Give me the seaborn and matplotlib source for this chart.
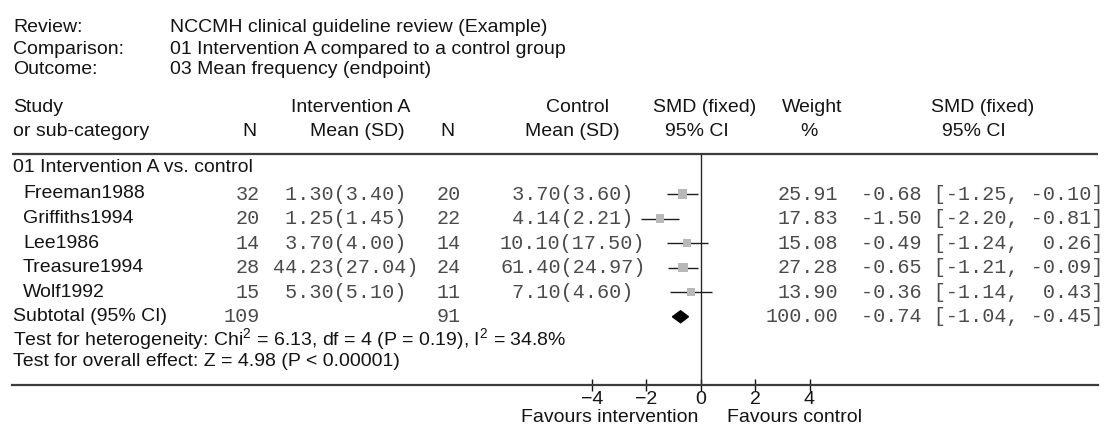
import numpy as np
import pandas as pd
import matplotlib
matplotlib.use('Agg')
import matplotlib.pyplot as plt
import matplotlib.transforms as mtransforms
import seaborn as sns

# data
studies = ['Freeman1988', 'Griffiths1994', 'Lee1986', 'Treasure1994', 'Wolf1992']
n_int = [32, 20, 14, 28, 15]
mean_int = [1.30, 1.25, 3.70, 44.23, 5.30]
sd_int = [3.40, 1.45, 4.00, 27.04, 5.10]
n_ctl = [20, 22, 14, 24, 11]
mean_ctl = [3.70, 4.14, 10.10, 61.40, 7.10]
sd_ctl = [3.60, 2.21, 17.50, 24.97, 4.60]
weight = [25.91, 17.83, 15.08, 27.28, 13.90]
smd = [-0.68, -1.50, -0.49, -0.65, -0.36]
ci_lo = [-1.25, -2.20, -1.24, -1.21, -1.14]
ci_hi = [-0.10, -0.81, 0.26, -0.09, 0.43]

total_n_int = 109
total_n_ctl = 91
total_weight = 100.00
total_smd = -0.74
total_lo = -1.04
total_hi = -0.45

xticks = [-4, -2, 0, 2, 4]

header_labels = ['Review:', 'Comparison:', 'Outcome:']
header_values = ['NCCMH clinical guideline review (Example)',
                 '01 Intervention A compared to a control group',
                 '03 Mean frequency (endpoint)']

df = pd.DataFrame({'study': studies, 'smd': smd, 'lo': ci_lo, 'hi': ci_hi,
                   'weight': weight})
df['row'] = np.arange(len(df))
sub_row = len(df)

sns.set_style('white')
plt.rcParams['font.family'] = ['Liberation Sans', 'DejaVu Sans']
plt.rcParams['mathtext.fontset'] = 'custom'
plt.rcParams['mathtext.rm'] = 'Liberation Sans'

W, H = 1104, 428
fig = plt.figure(figsize=(W / 100, H / 100), dpi=100)
ax = fig.add_axes([0, 0, 1, 1])

# pixel layout: 0 at x=700.7px, 27.2 px per unit; rows 24.55 px apart from y=194
ppu = 27.2
x0 = 700.7
rowh = 24.55
row0 = 194
ax.set_xlim(-x0 / ppu, (W - x0) / ppu)
ax.set_ylim((H - row0) / rowh, -row0 / rowh)

def rowy(py):
    return (py - row0) / rowh

sans = dict(family=['Liberation Sans', 'DejaVu Sans'], fontsize=14, color='#141414')
mono = dict(family=['Liberation Mono', 'DejaVu Sans Mono'], fontsize=14.5, color='#4a4a4a')

def ftext(px, py, s, ha='left', **kw):
    fig.text(px / W, 1 - py / H, s, ha=ha, va='center', **kw)

tr = mtransforms.blended_transform_factory(ax.transAxes, ax.transData)

def rtext(px, r, s, ha='left', **kw):
    ax.text(px / W, r, s, ha=ha, va='center', transform=tr, **kw)

# title block
for i, (lab, val) in enumerate(zip(header_labels, header_values)):
    ftext(13, 28 + 21 * i, lab, **sans)
    ftext(170, 28 + 21 * i, val, **sans)

# column headers
ftext(13, 108, 'Study', **sans)
ftext(13, 131, 'or sub-category', **sans)
ftext(257, 131, 'N', ha='right', **sans)
ftext(410, 108, 'Intervention A', ha='right', **sans)
ftext(405, 131, 'Mean (SD)', ha='right', **sans)
ftext(454, 131, 'N', ha='right', **sans)
ftext(609, 108, 'Control', ha='right', **sans)
ftext(620, 131, 'Mean (SD)', ha='right', **sans)
ftext(705, 108, 'SMD (fixed)', ha='center', **sans)
ftext(697, 131, '95% CI', ha='center', **sans)
ftext(812, 108, 'Weight', ha='center', **sans)
ftext(809, 131, '%', ha='center', **sans)
ftext(983, 108, 'SMD (fixed)', ha='center', **sans)
ftext(974, 131, '95% CI', ha='center', **sans)

# table rows
rtext(13, rowy(168), '01 Intervention A vs. control', **sans)
for i, r in df.iterrows():
    y = r['row']
    rtext(23, y, r['study'], **sans)
    rtext(260, y, f"{n_int[i]}", ha='right', **mono)
    rtext(273, y, f"{mean_int[i]:5.2f}({sd_int[i]:.2f})", **mono)
    rtext(461, y, f"{n_ctl[i]}", ha='right', **mono)
    rtext(500, y, f"{mean_ctl[i]:5.2f}({sd_ctl[i]:.2f})", **mono)
    rtext(838, y, f"{r['weight']:.2f}", ha='right', **mono)
    rtext(861, y, f"{r['smd']:5.2f} [{r['lo']:5.2f}, {r['hi']:5.2f}]", **mono)

rtext(13, sub_row, 'Subtotal (95% CI)', **sans)
rtext(260, sub_row, f"{total_n_int}", ha='right', **mono)
rtext(461, sub_row, f"{total_n_ctl}", ha='right', **mono)
rtext(838, sub_row, f"{total_weight:.2f}", ha='right', **mono)
rtext(861, sub_row, f"{total_smd:5.2f} [{total_lo:5.2f}, {total_hi:5.2f}]", **mono)
rtext(13, rowy(340),
      r'Test for heterogeneity: Chi$^{2}$ = 6.13, df = 4 (P = 0.19), I$^{2}$ = 34.8%', **sans)
rtext(13, rowy(362), 'Test for overall effect: Z = 4.98 (P < 0.00001)', **sans)

# rules
top_line = rowy(154)
bot_line = rowy(385)
xl, xr = (12 - x0) / ppu, (1098 - x0) / ppu
ax.hlines(top_line, xl, xr, color='#3c3c3c', lw=1.6)
ax.vlines(0, top_line, bot_line, color='#2a2a2a', lw=1.0, zorder=2)

# CI lines and squares
ax.hlines(df['row'], df['lo'], df['hi'], color='#1e1e1e', lw=1.0, zorder=3)
sns.scatterplot(data=df, x='smd', y='row', size='weight', sizes=(32, 46),
                marker='s', color='#b8b8b8', edgecolor='none', legend=False,
                ax=ax, zorder=4)

# pooled diamond
dh = 6 / rowh
ax.fill([total_lo, total_smd, total_hi, total_smd],
        [sub_row, sub_row - dh, sub_row, sub_row + dh], color='black', zorder=4)

# x axis on the bottom rule
ax.spines[['top', 'right', 'left']].set_visible(False)
ax.spines['bottom'].set_position(('data', bot_line))
ax.spines['bottom'].set_bounds(xl, xr)
ax.spines['bottom'].set_color('#3c3c3c')
ax.spines['bottom'].set_linewidth(1.6)
ax.set_xticks(xticks)
ax.set_xticklabels([str(t).replace('-', '\u2212') for t in xticks])
ax.tick_params(axis='x', direction='inout', length=8, width=1.0, pad=0,
               labelsize=14, colors='#141414', bottom=True)
ax.set_yticks([])
ax.set_xlabel('')
ax.set_ylabel('')
ax.patch.set_alpha(0)

ftext(698, 418, 'Favours intervention', ha='right', **sans)
ftext(727, 418, 'Favours control', **sans)

fig.savefig('out.png', dpi=100)
